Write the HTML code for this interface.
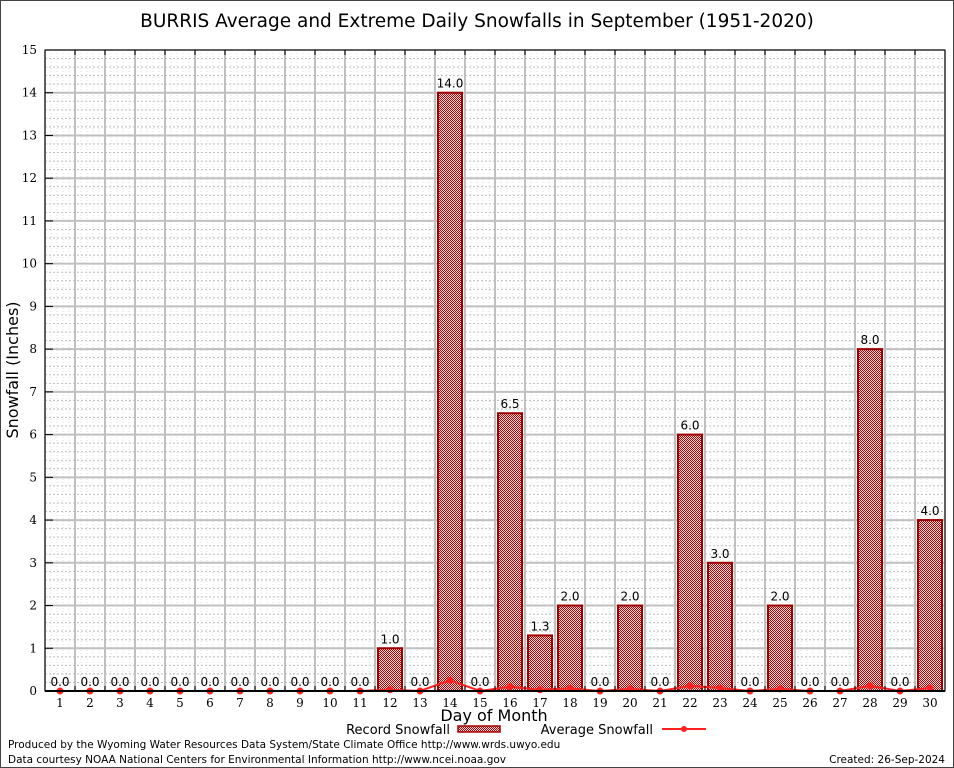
<!DOCTYPE html>
<html><head><meta charset="utf-8"><style>
body{margin:0;background:#fff;}
svg{display:block;font-family:"DejaVu Sans","Liberation Sans",sans-serif;}
.ser{font-family:"DejaVu Serif","Liberation Serif",serif;}
</style></head><body>
<svg id="chart" width="954" height="768" viewBox="0 0 954 768">
<defs>
<pattern id="chk" width="2" height="2" patternUnits="userSpaceOnUse">
<rect width="2" height="2" fill="#f4e0e0"/><rect width="1" height="1" fill="#c00000"/><rect x="1" y="1" width="1" height="1" fill="#c00000"/>
</pattern>
</defs>
<rect x="0.5" y="0.5" width="953" height="767" fill="#fff" stroke="#444"/>
<text x="477" y="27" text-anchor="middle" font-size="18.5" fill="#000">BURRIS Average and Extreme Daily Snowfalls in September (1951-2020)</text>
<g id="grid"></g>
<g id="bars"></g>
<g id="avg"></g>
<g id="axes"></g>
<text x="18" y="370" transform="rotate(-90 18 370)" text-anchor="middle" font-size="16">Snowfall (Inches)</text>
<text x="494" y="721" text-anchor="middle" font-size="16">Day of Month</text>
<g>
<text x="450" y="734" text-anchor="end" font-size="13">Record Snowfall</text>
<rect x="458" y="726" width="42" height="6" fill="url(#chk)" stroke="#a00000" stroke-width="1.5"/>
</g>
<g>
<text x="653" y="734" text-anchor="end" font-size="13">Average Snowfall</text>
<line x1="662" y1="729" x2="706" y2="729" stroke="#ff2020" stroke-width="2"/>
<circle cx="684" cy="729" r="3" fill="#ff2020"/>
</g>
<text x="8" y="748" font-size="10.5">Produced by the Wyoming Water Resources Data System/State Climate Office http://www.wrds.uwyo.edu</text>
<text x="8" y="763" font-size="10.5">Data courtesy NOAA National Centers for Environmental Information http://www.ncei.noaa.gov</text>
<text x="945" y="763" text-anchor="end" font-size="10.5">Created:  26-Sep-2024</text>
</svg>
<script>
const days=[1,2,3,4,5,6,7,8,9,10,11,12,13,14,15,16,17,18,19,20,21,22,23,24,25,26,27,28,29,30];
const records=[0,0,0,0,0,0,0,0,0,0,0,1.0,0,14.0,0,6.5,1.3,2.0,0,2.0,0,6.0,3.0,0,2.0,0,0,8.0,0,4.0];
const averages=[0,0,0,0,0,0,0,0,0,0,0,0.03,0,0.25,0,0.1,0.03,0.06,0,0.05,0,0.12,0.07,0,0.05,0,0,0.12,0,0.07];
const yTicks=[0,1,2,3,4,5,6,7,8,9,10,11,12,13,14,15];
const NS="http://www.w3.org/2000/svg";
const L=45,R=945,T=50,B=691;
const x=d=>L+(d-0.5)*(R-L)/30;
const y=v=>B-v*(B-T)/15;
function mk(tag,attrs,parent){const e=document.createElementNS(NS,tag);for(const k in attrs)e.setAttribute(k,attrs[k]);parent.appendChild(e);return e;}
const grid=document.getElementById('grid'),bars=document.getElementById('bars'),avg=document.getElementById('avg'),axes=document.getElementById('axes');
for(let v=0;v<15;v+=0.2){const l=mk('line',{x1:L,x2:R,y1:y(v),y2:y(v),stroke:'#bbb','stroke-width':1,'stroke-dasharray':'2,2'},grid);

}
for(let d=0.5;d<30.5;d+=0.2){const l=mk('line',{x1:x(d),x2:x(d),y1:T,y2:B,stroke:'#ddd','stroke-width':1,'stroke-dasharray':'1,2'},grid);

}
yTicks.forEach(v=>{const l=mk('line',{x1:L,x2:R,y1:y(v),y2:y(v),stroke:'#c0c0c0','stroke-width':2},grid);


const t=mk('text',{x:L-8,y:y(v)+4,'text-anchor':'end','font-size':12,class:'ser'},axes);t.textContent=v;


mk('line',{x1:L,x2:L+8,y1:y(v),y2:y(v),stroke:'#000'},axes);});
for(let d=0;d<=30;d++){const gx=x(d+0.5);const l=mk('line',{x1:gx,x2:gx,y1:T,y2:B,stroke:'#c0c0c0','stroke-width':2},grid);


mk('line',{x1:gx,x2:gx,y1:T,y2:T+5,stroke:'#000'},axes);mk('line',{x1:gx,x2:gx,y1:B,y2:B-5,stroke:'#000'},axes);}
days.forEach((d,i)=>{const v=records[i];
if(v>0){const r=mk('rect',{x:x(d)-12,y:y(v),width:24,height:y(0)-y(v),fill:'url(#chk)',stroke:'#a00000','stroke-width':2},bars);

}
const t=mk('text',{x:x(d),y:y(v)-5,'text-anchor':'middle','font-size':12},bars);t.textContent=v.toFixed(1);


const xl=mk('text',{x:x(d),y:B+16,'text-anchor':'middle','font-size':12,class:'ser'},axes);xl.textContent=d;

});
const pts=days.map((d,i)=>x(d)+','+y(averages[i])).join(' ');
const pl=mk('polyline',{points:pts,fill:'none',stroke:'#ff2020','stroke-width':2},avg);


days.forEach((d,i)=>{const c=mk('circle',{cx:x(d),cy:y(averages[i]),r:3.5,fill:'#ff2020'},avg);

});
mk('rect',{x:L,y:T,width:R-L,height:B-T,fill:'none',stroke:'#000','stroke-width':1},axes);
mk('line',{x1:L,x2:R,y1:B,y2:B,stroke:'#000','stroke-width':2},axes);
</script>
</body></html>
